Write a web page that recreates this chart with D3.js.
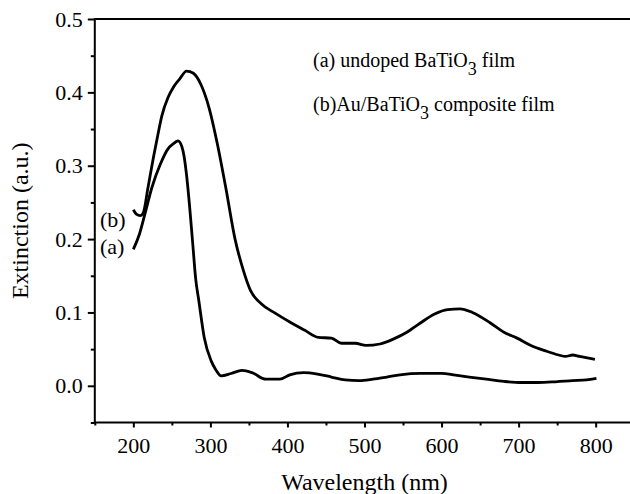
<!DOCTYPE html>
<html>
<head>
<meta charset="utf-8">
<script src="https://cdn.jsdelivr.net/npm/d3@7"></script>
<style>
  body { margin: 0; background: #fff; }
  svg { display: block; font-family: "Liberation Serif", "Times New Roman", serif; }
</style>
</head>
<body>
<svg id="chart" width="630" height="494"></svg>
<script>
// (a) undoped BaTiO3 film
const waveA = [200, 208, 215, 224, 235, 245, 252, 258, 263, 266, 269, 273, 277, 281, 285, 292, 301, 307, 314,
  327, 341, 354, 372, 390, 403, 421, 439, 457, 475, 493, 511, 529, 546, 573, 600, 618, 636, 658, 681, 703, 725, 748, 770, 788, 801];
const extA = [0.186, 0.207, 0.234, 0.270, 0.302, 0.323, 0.330, 0.334, 0.326, 0.312, 0.288, 0.245, 0.195, 0.145, 0.116, 0.066, 0.034, 0.022, 0.0136,
  0.0168, 0.021, 0.018, 0.009, 0.009, 0.015, 0.018, 0.016, 0.012, 0.008, 0.007, 0.009, 0.012, 0.015, 0.017, 0.017, 0.0145, 0.012, 0.009, 0.006, 0.0045, 0.0045, 0.0055, 0.007, 0.008, 0.010];

// (b) Au/BaTiO3 composite film
const waveB = [200, 204, 209, 213, 219, 226, 232, 237, 245, 252, 260, 269, 278, 288, 298, 309, 320, 332, 342, 352, 366,
  384, 403, 422, 440, 457, 470, 488, 502, 520, 538, 555, 573, 591, 608, 624, 640, 663, 681, 698, 716, 734, 752, 761, 770, 779, 799];
const extB = [0.240, 0.234, 0.232, 0.236, 0.270, 0.311, 0.343, 0.368, 0.393, 0.407, 0.418, 0.429, 0.426, 0.410, 0.380, 0.330, 0.270, 0.200, 0.160, 0.130, 0.112,
  0.099, 0.087, 0.076, 0.066, 0.065, 0.058, 0.058, 0.055, 0.057, 0.064, 0.073, 0.086, 0.098, 0.104, 0.105, 0.100, 0.086, 0.073, 0.065, 0.055, 0.048, 0.042, 0.040, 0.042, 0.040, 0.036];

const xMajor = [200, 300, 400, 500, 600, 700, 800];
const xMinor = [150, 250, 350, 450, 550, 650, 750, 850];
const yMajor = [0.0, 0.1, 0.2, 0.3, 0.4, 0.5];
const yMinor = [-0.05, 0.05, 0.15, 0.25, 0.35, 0.45];

const svg = d3.select("#chart");
const x = d3.scaleLinear().domain([150, 850]).range([94.8, 634.2]);
const y = d3.scaleLinear().domain([-0.05, 0.5]).range([422.5, 19]);

// frame
svg.append("rect")
  .attr("x", x(150)).attr("y", y(0.5))
  .attr("width", x(850) - x(150)).attr("height", y(-0.05) - y(0.5))
  .attr("fill", "none").attr("stroke", "#000").attr("stroke-width", 2);

const fmtY = d3.format(".1f");

const gx = svg.append("g").attr("transform", "translate(0," + y(-0.05) + ")")
  .call(d3.axisBottom(x).tickValues(xMajor).tickSize(5).tickPadding(9.5).tickFormat(d3.format("d")));
const gxm = svg.append("g").attr("transform", "translate(0," + y(-0.05) + ")")
  .call(d3.axisBottom(x).tickValues(xMinor).tickSize(3).tickFormat(""));
const gy = svg.append("g").attr("transform", "translate(" + x(150) + ",0)")
  .call(d3.axisLeft(y).tickValues(yMajor).tickSize(7).tickPadding(5).tickFormat(fmtY));
const gym = svg.append("g").attr("transform", "translate(" + x(150) + ",0)")
  .call(d3.axisLeft(y).tickValues(yMinor).tickSize(4).tickFormat(""));

[gx, gxm, gy, gym].forEach(g => {
  g.select(".domain").remove();
  g.selectAll(".tick line").attr("stroke", "#000").attr("stroke-width", 2);
  g.selectAll("text").attr("font-family", "Liberation Serif").attr("font-size", 22).attr("fill", "#000");
});

// curves
const line = d3.line().x(d => x(d[0])).y(d => y(d[1])).curve(d3.curveMonotoneX);
svg.append("path").datum(waveA.map((w, i) => [w, extA[i]]))
  .attr("d", line).attr("fill", "none").attr("stroke", "#000").attr("stroke-width", 2.8).attr("stroke-linejoin", "round");
svg.append("path").datum(waveB.map((w, i) => [w, extB[i]]))
  .attr("d", line).attr("fill", "none").attr("stroke", "#000").attr("stroke-width", 2.8).attr("stroke-linejoin", "round");

// axis titles
svg.append("text")
  .attr("x", (x(150) + x(850)) / 2).attr("y", 490)
  .attr("text-anchor", "middle").attr("font-size", 24)
  .text("Wavelength (nm)");
svg.append("text")
  .attr("transform", "translate(28," + (y(0.5) + y(-0.05)) / 2 + ") rotate(-90)")
  .attr("text-anchor", "middle").attr("font-size", 24)
  .text("Extinction (a.u.)");

// curve labels
svg.append("text").attr("x", 100).attr("y", 227).attr("font-size", 22).text("(b)");
svg.append("text").attr("x", 100).attr("y", 254).attr("font-size", 22).text("(a)");

// legend
const legend = [
  { pre: "(a) undoped BaTiO", post: " film", y: 67 },
  { pre: "(b)Au/BaTiO", post: " composite film", y: 111 }
];
legend.forEach(d => {
  const t = svg.append("text").attr("x", 313).attr("y", d.y).attr("font-size", 20);
  t.append("tspan").text(d.pre);
  t.append("tspan").attr("dy", 8).attr("font-size", 18).text("3");
  t.append("tspan").attr("dy", -8).text(d.post);
});
</script>
</body>
</html>
